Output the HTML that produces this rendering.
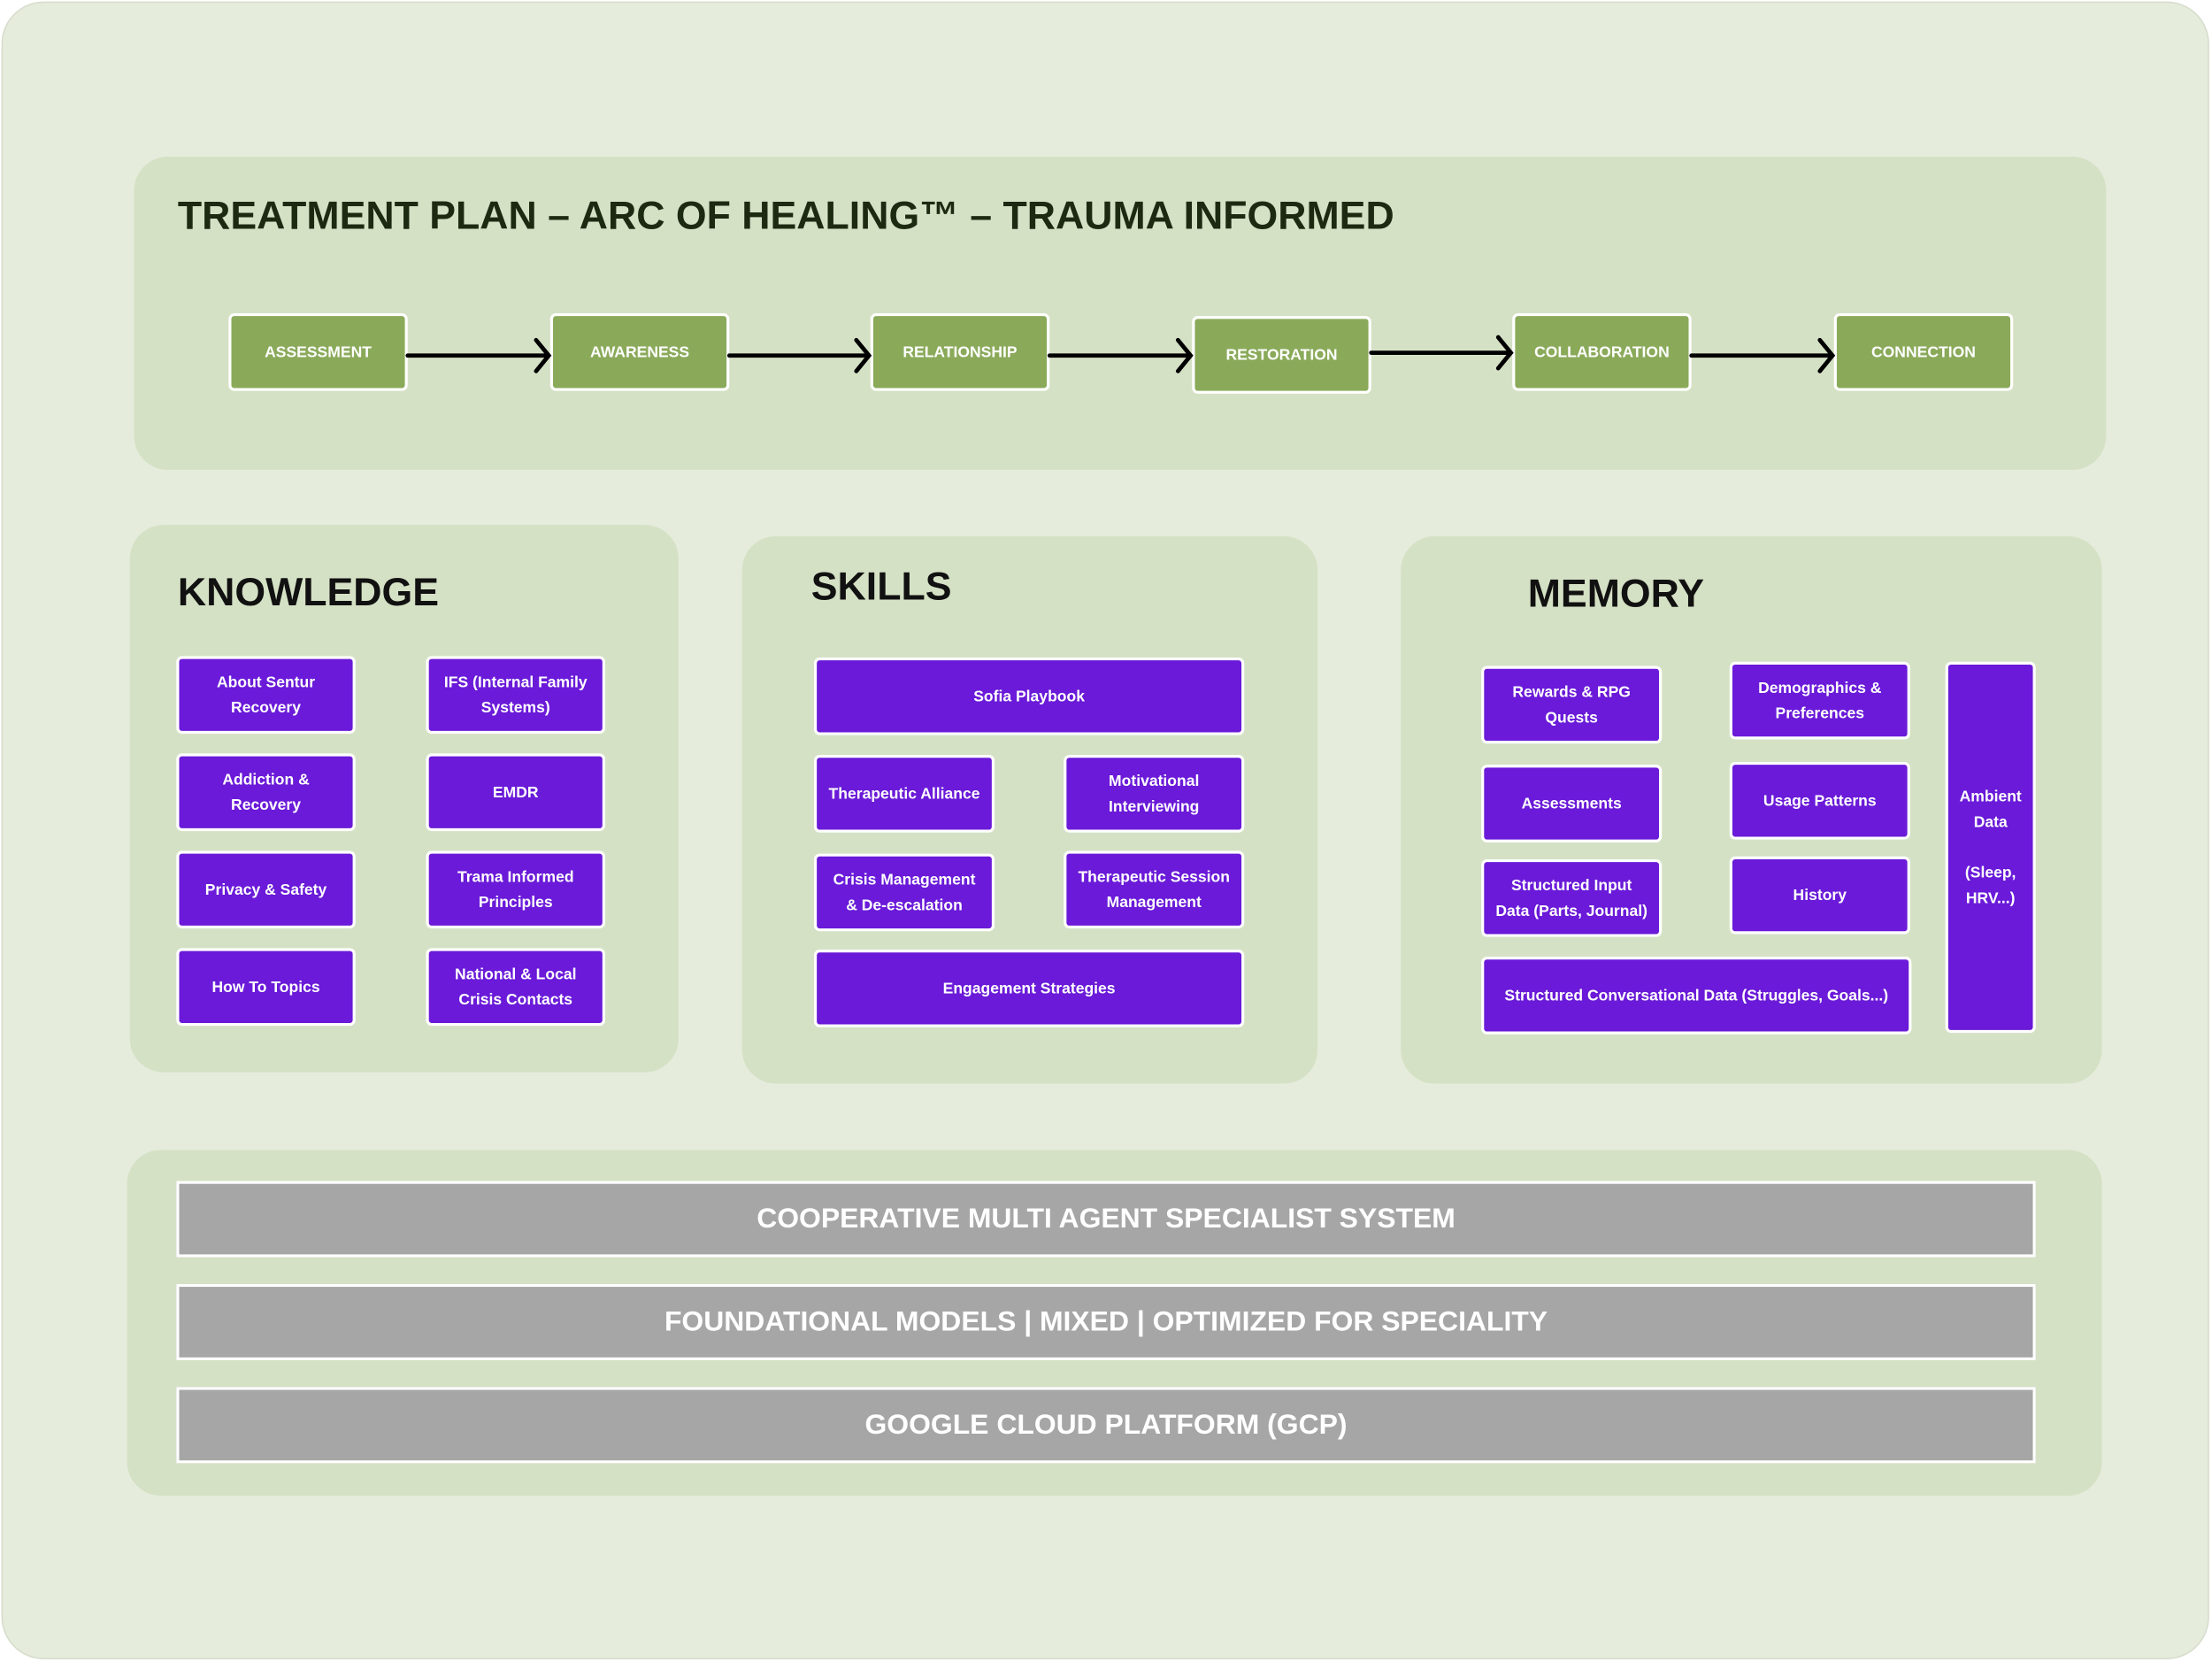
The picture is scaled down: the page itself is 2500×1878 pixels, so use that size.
<!DOCTYPE html>
<html><head><meta charset="utf-8"><style>
*{margin:0;padding:0;box-sizing:border-box}
html,body{width:2500px;height:1878px;overflow:hidden;background:#fff}
#s{position:absolute;left:0;top:0;width:1568px;height:1178px;transform:scale(1.5944);transform-origin:0 0;font-family:"Liberation Sans",sans-serif}
.a{position:absolute}
.bg{left:1px;top:1px;width:1565px;height:1175px;background:#e6ecdc;border:1px solid #d6ddcc;border-radius:30px}
.p{background:#d5e1c5;border-radius:24px}
.st{background:#8aaa5a;border:2px solid #fff;border-radius:4px;color:#fff;font-size:11px;font-weight:bold;display:flex;align-items:center;justify-content:center;width:127px;height:55px}
.b{background:#6a1ad8;border:2px solid #fff;border-radius:4px;color:#fff;font-size:11px;font-weight:bold;display:flex;align-items:center;justify-content:center;text-align:center;line-height:18px;padding:0 4px;white-space:nowrap}
.h{font-weight:bold;font-size:28px;color:#111}
.g{background:#a6a6a6;border:2px solid #fff;color:#fff;font-size:20px;font-weight:bold;display:flex;align-items:center;justify-content:center;left:125px;width:1318px;height:54px}
</style></head><body><div id="s">
<div class="a bg"></div>
<div class="a p" style="left:95px;top:111px;width:1398px;height:222px"></div>
<div class="a h" style="left:126px;top:137px;color:#1d2a12">TREATMENT PLAN – ARC OF HEALING™  – TRAUMA INFORMED</div>
<div class="a st" style="left:162px;top:222px">ASSESSMENT</div>
<div class="a st" style="left:390px;top:222px">AWARENESS</div>
<div class="a st" style="left:617px;top:222px">RELATIONSHIP</div>
<div class="a st" style="left:845px;top:224px">RESTORATION</div>
<div class="a st" style="left:1072px;top:222px">COLLABORATION</div>
<div class="a st" style="left:1300px;top:222px">CONNECTION</div>
<svg class="a" style="left:0;top:0" width="1568" height="400" fill="none" stroke="#000" stroke-width="3" stroke-linecap="round">
<path d="M289 252H389M380 241L389 252L380 263"/>
<path d="M517 252H616M607 241L616 252L607 263"/>
<path d="M744 252H844M835 241L844 252L835 263"/>
<path d="M972 250H1071M1062 239L1071 250L1062 261"/>
<path d="M1199 252H1299M1290 241L1299 252L1290 263"/>
</svg>
<div class="a p" style="left:92px;top:372px;width:389px;height:388px"></div>
<div class="a p" style="left:526px;top:380px;width:408px;height:388px"></div>
<div class="a p" style="left:993px;top:380px;width:497px;height:388px"></div>
<div class="a h" style="left:126px;top:404px">KNOWLEDGE</div>
<div class="a h" style="left:575px;top:400px">SKILLS</div>
<div class="a h" style="left:1083px;top:405px">MEMORY</div>

<div class="a b" style="left:125px;top:465px;width:127px;height:55px">About Sentur<br>Recovery</div>
<div class="a b" style="left:302px;top:465px;width:127px;height:55px">IFS (Internal Family<br>Systems)</div>
<div class="a b" style="left:125px;top:534px;width:127px;height:55px">Addiction &amp;<br>Recovery</div>
<div class="a b" style="left:302px;top:534px;width:127px;height:55px">EMDR</div>
<div class="a b" style="left:125px;top:603px;width:127px;height:55px">Privacy &amp; Safety</div>
<div class="a b" style="left:302px;top:603px;width:127px;height:55px">Trama Informed<br>Principles</div>
<div class="a b" style="left:125px;top:672px;width:127px;height:55px">How To Topics</div>
<div class="a b" style="left:302px;top:672px;width:127px;height:55px">National &amp; Local<br>Crisis Contacts</div>

<div class="a b" style="left:577px;top:466px;width:305px;height:55px">Sofia Playbook</div>
<div class="a b" style="left:577px;top:535px;width:128px;height:55px">Therapeutic Alliance</div>
<div class="a b" style="left:754px;top:535px;width:128px;height:55px">Motivational<br>Interviewing</div>
<div class="a b" style="left:577px;top:605px;width:128px;height:55px">Crisis Management<br>&amp; De-escalation</div>
<div class="a b" style="left:754px;top:603px;width:128px;height:55px">Therapeutic Session<br>Management</div>
<div class="a b" style="left:577px;top:673px;width:305px;height:55px">Engagement Strategies</div>

<div class="a b" style="left:1050px;top:472px;width:128px;height:55px">Rewards &amp; RPG<br>Quests</div>
<div class="a b" style="left:1226px;top:469px;width:128px;height:55px">Demographics &amp;<br>Preferences</div>
<div class="a b" style="left:1050px;top:542px;width:128px;height:55px">Assessments</div>
<div class="a b" style="left:1226px;top:540px;width:128px;height:55px">Usage Patterns</div>
<div class="a b" style="left:1050px;top:609px;width:128px;height:55px">Structured Input<br>Data (Parts, Journal)</div>
<div class="a b" style="left:1226px;top:607px;width:128px;height:55px">History</div>
<div class="a b" style="left:1050px;top:678px;width:305px;height:55px">Structured Conversational Data (Struggles, Goals...)</div>
<div class="a b" style="left:1379px;top:469px;width:64px;height:263px">Ambient<br>Data<br><br>(Sleep,<br>HRV...)</div>

<div class="a p" style="left:90px;top:815px;width:1400px;height:245px"></div>
<div class="a g" style="top:837px">COOPERATIVE MULTI AGENT SPECIALIST SYSTEM</div>
<div class="a g" style="top:910px">FOUNDATIONAL MODELS | MIXED | OPTIMIZED FOR SPECIALITY</div>
<div class="a g" style="top:983px">GOOGLE CLOUD PLATFORM (GCP)</div>
</div></body></html>
